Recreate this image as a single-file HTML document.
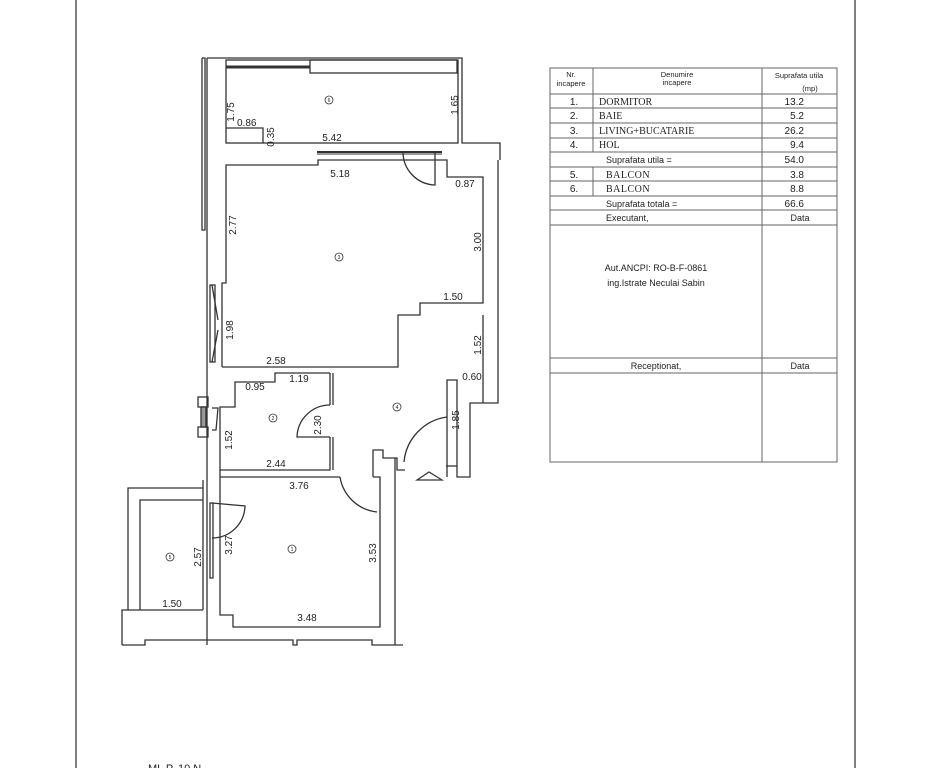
<!DOCTYPE html>
<html><head><meta charset="utf-8"><style>
html,body{margin:0;padding:0;background:#fff;}
svg{display:block;}
text{font-family:"Liberation Sans",sans-serif;fill:#222;}
.s{font-family:"Liberation Serif",serif;}
</style></head><body>
<svg width="931" height="768" viewBox="0 0 931 768" xmlns="http://www.w3.org/2000/svg">
<g stroke="#555" stroke-width="1.5" fill="none">
<line x1="76" y1="0" x2="76" y2="768"/>
<line x1="855" y1="0" x2="855" y2="768"/>
</g>
<!-- floor plan -->
<g stroke="#333" stroke-width="1.3" fill="none">
<!-- outer left strip -->
<polyline points="202,58 202,230 205,230 205,58 202,58"/>
<line x1="207" y1="58" x2="207" y2="645"/>
<line x1="203" y1="480" x2="203" y2="610"/>
<!-- balcony 6 -->
<polyline points="207,58 462,58 462,143 500,143 500,160"/>
<rect x="226" y="60" width="232" height="83"/>
<line x1="226" y1="67" x2="310" y2="67" stroke-width="3"/>
<rect x="310" y="60" width="147" height="13"/>
<polyline points="226,128 263,128 263,143"/>
<!-- door strip top of living -->
<line x1="317" y1="152" x2="442" y2="152" stroke-width="2"/>
<line x1="317" y1="154" x2="442" y2="154" stroke-width="1"/>
<path d="M403,152 A33,33 0 0 0 435,185 L435,152"/>
<!-- living -->
<polyline points="222,367 222,283 226,283 226,165 318,165 318,160 447,160 447,177 483,177 483,303 420,303 420,315 398,315 398,367 222,367"/>
<polyline points="498,160 498,370"/>
<rect x="210" y="285" width="5" height="77"/>
<line x1="212" y1="285" x2="218" y2="320"/><line x1="212" y1="362" x2="218" y2="330"/>
<!-- hall right -->
<polyline points="483,315 483,403"/>
<polyline points="498,370 498,403 470,403 470,477 457,477 457,380 447,380 447,477"/>
<polyline points="457,466 446,466"/>
<!-- bath -->
<polyline points="330,373 275,373 275,382 235,382 235,407 220,407 220,470 330,470 330,437"/>
<line x1="330" y1="373" x2="330" y2="405"/>
<line x1="333" y1="373" x2="333" y2="405"/>
<line x1="333" y1="437" x2="333" y2="470"/>
<path d="M330,405 A33,33 0 0 0 297,437 L330,437"/>
<rect x="198" y="397" width="10" height="10"/><rect x="198" y="427" width="10" height="10"/>
<rect x="201" y="407" width="5" height="20" fill="#999"/>
<path d="M212,408 L218,408 L216,430 L212,430"/>
<!-- bedroom -->
<polyline points="220,477 340,477"/>
<polyline points="220,470 220,615 233,615 233,627 380,627 380,477 373,477"/>
<path d="M340,477 A42,42 0 0 0 377,512"/>
<polyline points="373,477 373,450 383,450 383,458 397,458 397,470 405,470"/>
<path d="M447,417 A50,50 0 0 0 404,462"/>
<line x1="395" y1="458" x2="395" y2="645"/>
<rect x="210" y="503" width="3" height="75"/>
<path d="M212,503 L245,506 A33,33 0 0 1 212,538"/>
<!-- balcony 5 -->
<polyline points="128,610 128,488 203,488"/>
<polyline points="140,610 140,500 203,500"/>
<polyline points="122,645 122,610 203,610"/>
<polyline points="122,645 145,645 145,640 293,640 293,645 297,645 297,640 372,640 372,645 403,645"/>
<polygon points="417,480 429,472 442,480" stroke-width="1.2"/>
</g>
<g font-size="10">
<text transform="translate(234,112) rotate(-90)" text-anchor="middle">1.75</text>
<text x="237" y="126">0.86</text>
<text transform="translate(274,137) rotate(-90)" text-anchor="middle">0.35</text>
<text x="332" y="141" text-anchor="middle">5.42</text>
<text transform="translate(458,105) rotate(-90)" text-anchor="middle">1.65</text>
<text x="340" y="177" text-anchor="middle">5.18</text>
<text x="465" y="187" text-anchor="middle">0.87</text>
<text transform="translate(236,225) rotate(-90)" text-anchor="middle">2.77</text>
<text transform="translate(481,242) rotate(-90)" text-anchor="middle">3.00</text>
<text x="453" y="300" text-anchor="middle">1.50</text>
<text transform="translate(233,330) rotate(-90)" text-anchor="middle">1.98</text>
<text transform="translate(481,345) rotate(-90)" text-anchor="middle">1.52</text>
<text x="276" y="364" text-anchor="middle">2.58</text>
<text x="472" y="380" text-anchor="middle">0.60</text>
<text x="255" y="390" text-anchor="middle">0.95</text>
<text x="299" y="382" text-anchor="middle">1.19</text>
<text transform="translate(321,425) rotate(-90)" text-anchor="middle">2.30</text>
<text transform="translate(459,420) rotate(-90)" text-anchor="middle">1.85</text>
<text transform="translate(232,440) rotate(-90)" text-anchor="middle">1.52</text>
<text x="276" y="467" text-anchor="middle">2.44</text>
<text x="299" y="489" text-anchor="middle">3.76</text>
<text transform="translate(232,545) rotate(-90)" text-anchor="middle">3.27</text>
<text transform="translate(201,557) rotate(-90)" text-anchor="middle">2.57</text>
<text transform="translate(376,553) rotate(-90)" text-anchor="middle">3.53</text>
<text x="172" y="607" text-anchor="middle">1.50</text>
<text x="307" y="621" text-anchor="middle">3.48</text>
</g>
<g stroke="#333" stroke-width="0.8" fill="none">
<circle cx="329" cy="100" r="4"/><circle cx="339" cy="257" r="4"/>
<circle cx="273" cy="418" r="4"/><circle cx="397" cy="407" r="4"/>
<circle cx="292" cy="549" r="4"/><circle cx="170" cy="557" r="4"/>
</g>
<g font-size="5" text-anchor="middle">
<text x="329" y="102">6</text><text x="339" y="259">3</text><text x="273" y="420">2</text>
<text x="397" y="409">4</text><text x="292" y="551">1</text><text x="170" y="559">5</text>
</g>
<!-- table -->
<g stroke="#666" stroke-width="1" fill="none">
<rect x="550" y="68" width="287" height="394"/>
<line x1="762" y1="68" x2="762" y2="462"/>
<line x1="593" y1="68" x2="593" y2="152"/>
<line x1="593" y1="167" x2="593" y2="196"/>
<line x1="550" y1="94" x2="837" y2="94"/>
<line x1="550" y1="108" x2="837" y2="108"/>
<line x1="550" y1="123" x2="837" y2="123"/>
<line x1="550" y1="138" x2="837" y2="138"/>
<line x1="550" y1="152" x2="837" y2="152"/>
<line x1="550" y1="167" x2="837" y2="167"/>
<line x1="550" y1="181" x2="837" y2="181"/>
<line x1="550" y1="196" x2="837" y2="196"/>
<line x1="550" y1="210" x2="837" y2="210"/>
<line x1="550" y1="225" x2="837" y2="225"/>
<line x1="550" y1="358" x2="837" y2="358"/>
<line x1="550" y1="373" x2="837" y2="373"/>
</g>
<g font-size="7.5" text-anchor="middle">
<text x="571" y="77">Nr.</text><text x="571" y="86">incapere</text>
<text x="677" y="77">Denumire</text><text x="677" y="85">incapere</text>
<text x="799" y="78">Suprafata utila</text><text x="810" y="91">(mp)</text>
</g>
<g font-size="10">
<text x="574" y="105" text-anchor="middle">1.</text>
<text x="574" y="119" text-anchor="middle">2.</text>
<text x="574" y="134" text-anchor="middle">3.</text>
<text x="574" y="148" text-anchor="middle">4.</text>
<text x="574" y="178" text-anchor="middle">5.</text>
<text x="574" y="192" text-anchor="middle">6.</text>
<text class="s" x="599" y="105">DORMITOR</text>
<text class="s" x="599" y="119">BAIE</text>
<text class="s" x="599" y="134">LIVING+BUCATARIE</text>
<text class="s" x="599" y="148">HOL</text>
<text class="s" x="606" y="178" letter-spacing="0.5">BALCON</text>
<text class="s" x="606" y="192" letter-spacing="0.5">BALCON</text>
<g font-size="9"><text x="606" y="163">Suprafata utila =</text>
<text x="606" y="207">Suprafata totala =</text>
<text x="606" y="221">Executant,</text></g>
<g text-anchor="end"><text x="804" y="105">13.2</text><text x="804" y="119">5.2</text>
<text x="804" y="134">26.2</text><text x="804" y="148">9.4</text><text x="804" y="163">54.0</text>
<text x="804" y="178">3.8</text><text x="804" y="192">8.8</text><text x="804" y="207">66.6</text></g>
<text x="800" y="221" text-anchor="middle" font-size="9">Data</text>
<g font-size="9" text-anchor="middle"><text x="656" y="271">Aut.ANCPI: RO-B-F-0861</text>
<text x="656" y="286">ing.Istrate Neculai Sabin</text>
<text x="656" y="369">Receptionat,</text><text x="800" y="369">Data</text></g>
</g>
<text x="148" y="772" font-size="11" fill="#666">ML P. 10 N</text>
</svg>
</body></html>
